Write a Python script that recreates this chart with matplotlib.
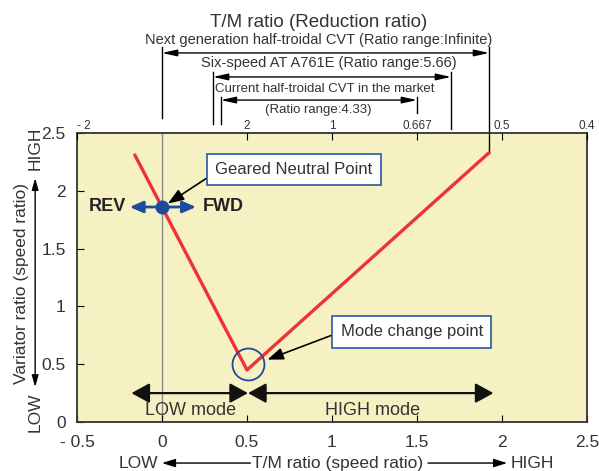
import matplotlib
matplotlib.use('Agg')
import matplotlib.pyplot as plt

plt.rcParams['font.family'] = ['Liberation Sans', 'DejaVu Sans']

# red operating line (T/M speed ratio vs variator ratio)
line_x = [-0.16, 0.5, 1.924]
line_y = [2.31, 0.45, 2.33]

# geared neutral point and mode change point
gnp_x, gnp_y = 0.0, 1.86
mcp_x, mcp_y = 0.506, 0.50

# top axis: reduction ratio = 1 / speed ratio
top_ticks = [-0.5, 0.5, 1, 1.5, 2, 2.5]
top_labels = ['- 2', '2', '1', '0.667', '0.5', '0.4']

bottom_ticks = [-0.5, 0, 0.5, 1, 1.5, 2, 2.5]
bottom_labels = ['- 0.5', '0', '0.5', '1', '1.5', '2', '2.5']
y_ticks = [0, 0.5, 1, 1.5, 2, 2.5]
y_labels = ['0', '0.5', '1', '1.5', '2', '2.5']

# ratio ranges (speed ratio limits)
range_names = ['Next generation half-troidal CVT (Ratio range:Infinite)',
               'Six-speed AT A761E (Ratio range:5.66)',
               'Current half-troidal CVT in the market']
range_lo = [0.0, 0.30, 0.346]
range_hi = [1.924, 1.70, 1.5]

# modes
mode_names = ['LOW mode', 'HIGH mode']
mode_lo = [-0.18, 0.506]
mode_hi = [0.506, 1.95]
mode_text_x = [0.17, 1.24]

BG = '#f5f1c3'
RED = '#ee3338'
BLUE = '#1f4b9f'
BOX = '#3b62aa'
TXT = '#333333'

fig = plt.figure(figsize=(5.99, 4.71), dpi=100)
ax = fig.add_axes([0.1285, 0.104, 0.8515, 0.6136])
ax.set_facecolor(BG)
ax.set_xlim(-0.5, 2.5)
ax.set_ylim(0, 2.5)

for s in ax.spines.values():
    s.set_linewidth(1.3)
    s.set_color('#333333')

ax.set_xticks(bottom_ticks)
ax.set_xticklabels(bottom_labels, fontsize=12.5, color=TXT)
ax.set_yticks(y_ticks)
ax.set_yticklabels(y_labels, fontsize=12.5, color=TXT)
ax.tick_params(axis='x', direction='in', length=5, pad=9)
ax.tick_params(axis='y', direction='in', length=5, pad=8)

top = ax.twiny()
top.set_xlim(ax.get_xlim())
top.set_xticks(top_ticks)
top.set_xticklabels(top_labels, fontsize=8.5, color=TXT)
top.tick_params(axis='x', direction='in', length=5, pad=1)
top.get_xticklabels()[0].set_horizontalalignment('left')
for s in top.spines.values():
    s.set_visible(False)

# vertical reference at speed ratio 0
ax.axvline(0, color='#888888', lw=1, zorder=1)

ax.plot(line_x, line_y, color=RED, lw=2.4, solid_capstyle='round', zorder=3)

# geared neutral point with REV / FWD arrows
for tip in (-0.19, 0.2):
    ax.annotate('', xy=(tip, gnp_y), xytext=(gnp_x, gnp_y),
                arrowprops=dict(arrowstyle='-|>,head_length=0.8,head_width=0.35',
                                color=BLUE, lw=2, shrinkA=0, shrinkB=0), zorder=4)
ax.plot(gnp_x, gnp_y, 'o', color=BLUE, ms=9, zorder=5)
ax.text(-0.32, gnp_y, 'REV', fontsize=13, fontweight='bold', color='#222222',
        ha='center', va='center')
ax.text(0.36, gnp_y, 'FWD', fontsize=13, fontweight='bold', color='#222222',
        ha='center', va='center')

# mode change circle
ax.plot(mcp_x, mcp_y, 'o', mfc='none', mec=BLUE, mew=1.3, ms=23, zorder=4)

# callouts
ax.annotate('Geared Neutral Point', xy=(0.035, 1.89), xytext=(0.776, 2.184),
            fontsize=12, color=TXT, ha='center', va='center',
            bbox=dict(boxstyle='square,pad=0.5', fc='white', ec=BOX, lw=1.3),
            arrowprops=dict(arrowstyle='-|>,head_length=0.8,head_width=0.3',
                            color='black', lw=1.2, shrinkA=0, shrinkB=0,
                            relpos=(0, 0.3)))
ax.annotate('Mode change point', xy=(0.62, 0.54), xytext=(1.47, 0.78),
            fontsize=12, color=TXT, ha='center', va='center',
            bbox=dict(boxstyle='square,pad=0.5', fc='white', ec=BOX, lw=1.3),
            arrowprops=dict(arrowstyle='-|>,head_length=0.8,head_width=0.3',
                            color='black', lw=1.2, shrinkA=0, shrinkB=0,
                            relpos=(0, 0.5)))

# LOW / HIGH mode arrows
for lo, hi, name, tx in zip(mode_lo, mode_hi, mode_names, mode_text_x):
    ax.annotate('', xy=(hi, 0.25), xytext=(lo, 0.25),
                arrowprops=dict(arrowstyle='<|-|>,head_length=1.1,head_width=0.6',
                                color='#111111', lw=1.6, shrinkA=0, shrinkB=0))
    ax.text(tx, 0.1, name, fontsize=13, color=TXT, ha='center', va='center')

# ratio range brackets above the plot (x in data, y in axes fraction)
tr = ax.get_xaxis_transform()
text_y = [1.322, 1.242, 1.152]
arrow_y = [1.277, 1.194, 1.114]
vtop = [1.296, 1.211, 1.125]
vbot_lo = [1.052, 1.031, 1.031]
vbot_hi = [0.932, 1.014, 1.069]
text_x = [0.92, 0.98, 0.96]
text_fs = [10.5, 10.5, 9.5]
for i in range(3):
    ax.plot([range_lo[i]] * 2, [vtop[i], vbot_lo[i]], color='black', lw=1,
            transform=tr, clip_on=False)
    ax.plot([range_hi[i]] * 2, [vtop[i], vbot_hi[i]], color='black', lw=1,
            transform=tr, clip_on=False)
    ax.annotate('', xy=(range_hi[i], arrow_y[i]), xytext=(range_lo[i], arrow_y[i]),
                xycoords=tr, textcoords=tr,
                arrowprops=dict(arrowstyle='<|-|>,head_length=0.9,head_width=0.2',
                                color='black', lw=1, shrinkA=0, shrinkB=0))
    ax.text(text_x[i], text_y[i], range_names[i], transform=tr, fontsize=text_fs[i],
            color=TXT, ha='center', va='center')
ax.text(0.92, 1.080, '(Ratio range:4.33)', transform=tr, fontsize=9.5,
        color=TXT, ha='center', va='center')
ax.text(0.92, 1.384, 'T/M ratio (Reduction ratio)', transform=tr, fontsize=13.5,
        color=TXT, ha='center', va='center')

# bottom axis title with LOW / HIGH arrows
ax.text(-0.14, -0.142, 'LOW', transform=tr, fontsize=12.5, color=TXT,
        ha='center', va='center')
ax.text(1.035, -0.142, 'T/M ratio (speed ratio)', transform=tr, fontsize=12.5,
        color=TXT, ha='center', va='center')
ax.text(2.18, -0.142, 'HIGH', transform=tr, fontsize=12.5, color=TXT,
        ha='center', va='center')
ax.annotate('', xy=(0.0, -0.142), xytext=(0.52, -0.142), xycoords=tr, textcoords=tr,
            arrowprops=dict(arrowstyle='-|>,head_length=0.8,head_width=0.25',
                            color='black', lw=1, shrinkA=0, shrinkB=0))
ax.annotate('', xy=(2.03, -0.142), xytext=(1.565, -0.142), xycoords=tr, textcoords=tr,
            arrowprops=dict(arrowstyle='-|>,head_length=0.8,head_width=0.25',
                            color='black', lw=1, shrinkA=0, shrinkB=0))

# left axis title with LOW / HIGH arrows
ax.text(-0.108, 0.48, 'Variator ratio (speed ratio)', transform=ax.transAxes,
        fontsize=12.5, color=TXT, rotation=90, ha='center', va='center')
ax.text(-0.082, 0.948, 'HIGH', transform=ax.transAxes, fontsize=12.5,
        color=TXT, rotation=90, ha='center', va='center')
ax.text(-0.082, 0.035, 'LOW', transform=ax.transAxes, fontsize=12.5,
        color=TXT, rotation=90, ha='center', va='center')
ax.annotate('', xy=(-0.082, 0.844), xytext=(-0.082, 0.121),
            xycoords='axes fraction', textcoords='axes fraction',
            arrowprops=dict(arrowstyle='<|-|>,head_length=0.7,head_width=0.2',
                            color='black', lw=1, shrinkA=0, shrinkB=0))

fig.savefig('out.png', dpi=100)
